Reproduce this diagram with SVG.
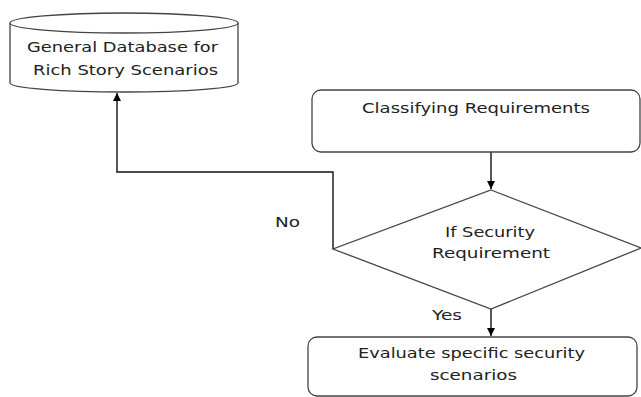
<svg xmlns="http://www.w3.org/2000/svg" width="641" height="397" viewBox="0 0 641 397">
<defs>
<style>
.shape{fill:#fff;stroke:#444;stroke-width:1.3}
.conn{fill:none;stroke:#111;stroke-width:1.4}
.t{font-family:"DejaVu Sans","Verdana",sans-serif;font-size:14px;fill:#222}
.c{text-anchor:middle}
</style>
<marker id="arr" viewBox="0 0 10 10" refX="10" refY="5" markerWidth="8" markerHeight="8" markerUnits="userSpaceOnUse" orient="auto">
<path d="M0,0 L10,5 L0,10 z" fill="#000"/>
</marker>
</defs>
<rect width="641" height="397" fill="#fff"/>
<g id="connectors">
<path class="conn" d="M333,249 V172 H117 V93" marker-end="url(#arr)"/>
<path class="conn" d="M491,152 V189" marker-end="url(#arr)"/>
<path class="conn" d="M491,309 V336" marker-end="url(#arr)"/>
</g>
<g id="database">
<path class="shape" d="M10,23 V83 A114,9 0 0 0 238,83 V23 A114,10 0 0 0 10,23 Z"/>
<path class="shape" fill="none" d="M10,23 A114,10 0 0 0 238,23"/>
<text class="t" x="27" y="52" textLength="191" lengthAdjust="spacingAndGlyphs">General Database for</text>
<text class="t" x="33" y="75" textLength="185" lengthAdjust="spacingAndGlyphs">Rich Story Scenarios</text>
</g>
<g id="classify">
<rect class="shape" x="312" y="90" width="328" height="62" rx="9"/>
<text class="t" x="362" y="113" textLength="228" lengthAdjust="spacingAndGlyphs">Classifying Requirements</text>
</g>
<g id="decision">
<polygon class="shape" points="491,190 641,248 491,309 333,249"/>
<text class="t" x="445" y="237" textLength="90" lengthAdjust="spacingAndGlyphs">If Security</text>
<text class="t" x="432" y="258" textLength="118" lengthAdjust="spacingAndGlyphs">Requirement</text>
</g>
<g id="evaluate">
<rect class="shape" x="308" y="337" width="329" height="59" rx="9"/>
<text class="t" x="358" y="358" textLength="227" lengthAdjust="spacingAndGlyphs">Evaluate specific security</text>
<text class="t" x="430" y="380" textLength="87" lengthAdjust="spacingAndGlyphs">scenarios</text>
</g>
<g id="labels">
<text class="t" x="275" y="227" textLength="25" lengthAdjust="spacingAndGlyphs">No</text>
<text class="t" x="432" y="320" textLength="30" lengthAdjust="spacingAndGlyphs">Yes</text>
</g>
</svg>
